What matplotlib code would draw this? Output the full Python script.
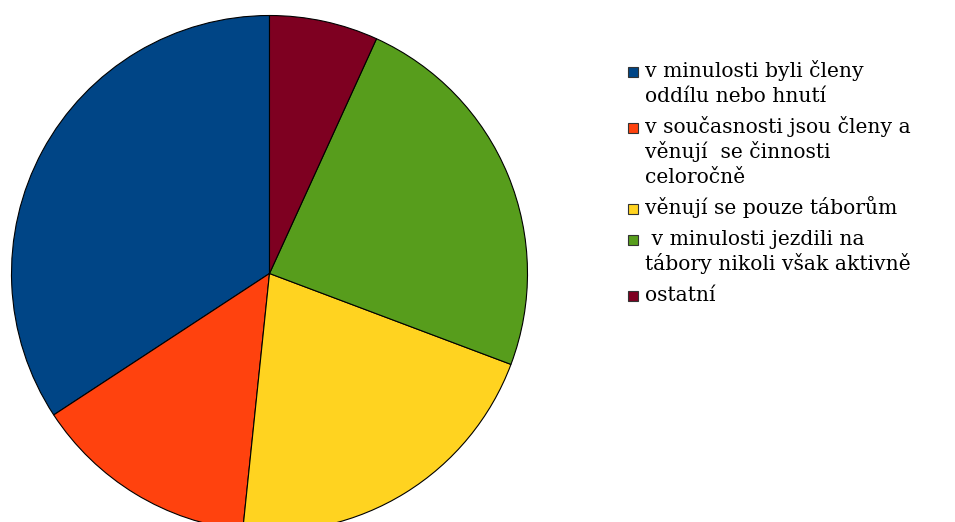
import matplotlib
matplotlib.use("Agg")
import matplotlib.pyplot as plt
from matplotlib.patches import Rectangle

# share of respondents (percent)
labels = [
    ["v minulosti byli členy", "oddílu nebo hnutí"],
    ["v současnosti jsou členy a", "věnují  se činnosti", "celoročně"],
    ["věnují se pouze táborům"],
    [" v minulosti jezdili na", "tábory nikoli však aktivně"],
    ["ostatní"],
]
values = [34.2, 14.1, 20.9, 23.9, 6.8]
colors = ["#004586", "#ff420e", "#ffd320", "#579d1c", "#7e0021"]

W, H = 955, 522
fig = plt.figure(figsize=(W / 100, H / 100), dpi=100)

# pie centre (269.5, 273.5) px, radius 258 px
cx, cy, r = 269.5, 273.5, 258
ax = fig.add_axes([(cx - r) / W, (H - cy - r) / H, 2 * r / W, 2 * r / H])
wedges, _ = ax.pie(values, colors=colors, startangle=90, counterclock=True,
                   wedgeprops=dict(edgecolor="black", linewidth=0.8))
for w in wedges:
    w.set_clip_on(False)
ax.set_xlim(-1, 1)
ax.set_ylim(-1, 1)
ax.set_aspect("auto")
ax.axis("off")

# legend drawn by hand, pixel layout
line_h = 25.2
gap = 5.6
y = 76.7
for lab, c in zip(labels, colors):
    sq_y = y - 5
    fig.patches.append(Rectangle((628 / W, 1 - (sq_y + 5) / H), 10 / W, 10 / H,
                                 transform=fig.transFigure, facecolor=c,
                                 edgecolor="#333333", linewidth=0.8))
    for line in lab:
        fig.text(645 / W, 1 - y / H, line, family="DejaVu Serif", fontsize=14.6,
                 va="baseline", ha="left", color="black")
        y += line_h
    y += gap

fig.savefig("out.png", dpi=100)
